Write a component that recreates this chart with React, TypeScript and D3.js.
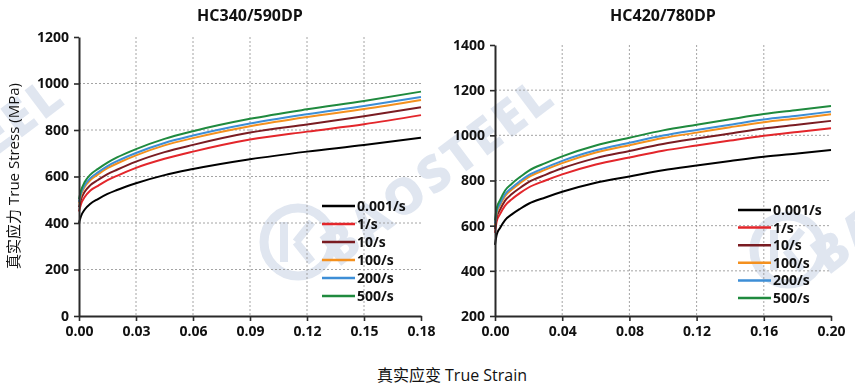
import React, { useEffect, useRef } from "react";
import * as d3 from "d3";

// strain rates shared by both panels
const rateLabels = ["0.001/s", "1/s", "10/s", "100/s", "200/s", "500/s"];
const rateColors = ["#000000", "#e3262b", "#7a1c22", "#f4901e", "#3d8ed6", "#1f8a3e"];

// HC340/590DP
const strain340 = [0, 0.001, 0.003, 0.006, 0.01, 0.015, 0.02, 0.03, 0.045, 0.06, 0.09, 0.12, 0.15, 0.18];
const s340_0001 = [400, 428, 458, 483, 503, 525, 542, 571, 606, 632, 674, 707, 735, 767];
const s340_1 = [449, 480, 512, 540, 560, 584, 603, 637, 676, 707, 759, 793, 825, 864];
const s340_10 = [468, 500, 534, 563, 585, 610, 629, 664, 705, 736, 789, 824, 859, 898];
const s340_100 = [484, 518, 555, 585, 609, 636, 656, 691, 734, 765, 816, 856, 890, 929];
const s340_200 = [491, 526, 562, 593, 618, 645, 666, 701, 744, 776, 828, 868, 903, 942];
const s340_500 = [503, 538, 576, 608, 633, 660, 682, 718, 762, 795, 848, 889, 925, 965];

// HC420/780DP
const strain420 = [0, 0.001, 0.003, 0.006, 0.01, 0.015, 0.02, 0.03, 0.04, 0.06, 0.08, 0.1, 0.12, 0.14, 0.16, 0.18, 0.2];
const s420_0001 = [515, 560, 590, 625, 650, 675, 697, 725, 750, 790, 818, 845, 866, 886, 905, 920, 935];
const s420_1 = [568, 618, 651, 689, 717, 745, 769, 800, 827, 871, 902, 932, 955, 977, 998, 1015, 1031];
const s420_10 = [586, 637, 671, 711, 740, 768, 793, 825, 854, 899, 931, 962, 986, 1008, 1030, 1047, 1064];
const s420_100 = [602, 655, 690, 731, 760, 789, 815, 848, 877, 924, 956, 988, 1012, 1036, 1058, 1075, 1093];
const s420_200 = [609, 662, 697, 739, 768, 798, 824, 857, 887, 934, 967, 999, 1024, 1047, 1070, 1087, 1105];
const s420_500 = [623, 677, 713, 756, 786, 816, 843, 877, 907, 955, 989, 1022, 1047, 1071, 1094, 1112, 1130];

const xTicks340 = [0, 0.03, 0.06, 0.09, 0.12, 0.15, 0.18];
const yTicks340 = [0, 200, 400, 600, 800, 1000, 1200];
const xTicks420 = [0, 0.04, 0.08, 0.12, 0.16, 0.2];
const yTicks420 = [200, 400, 600, 800, 1000, 1200, 1400];

const fontFamily = "'Open Sans', 'Noto Sans CJK SC', sans-serif";

const App: React.FC = () => {
  const svgRef = useRef<SVGSVGElement | null>(null);

  useEffect(() => {
    const svg = d3.select(svgRef.current);
    svg.selectAll("*").remove();

    svg.append("rect").attr("width", 855).attr("height", 388).attr("fill", "white");

    // watermark (drawn under everything), clipped to the picture
    svg.append("clipPath").attr("id", "wmclip")
      .append("rect").attr("width", 855).attr("height", 388);
    const wm = svg.append("g").attr("clip-path", "url(#wmclip)").attr("opacity", 0.45);
    [[-490, 0], [0, 0], [490, 8]].forEach(([dx, dy]) => {
      const g = wm.append("g").attr("transform", `translate(${dx},${dy})`);
      g.append("circle")
        .attr("cx", 298)
        .attr("cy", 242)
        .attr("r", 34)
        .attr("fill", "none")
        .attr("stroke", "#b9c7de")
        .attr("stroke-width", 9);
      g.append("path")
        .attr("d", "M284,222 L284,262 M296,242 L312,222 M296,242 L312,262")
        .attr("fill", "none")
        .attr("stroke", "#b9c7de")
        .attr("stroke-width", 8);
      g.append("text")
        .attr("transform", "translate(338,268) rotate(-37)")
        .attr("font-family", fontFamily)
        .attr("font-weight", 800)
        .attr("font-size", 50)
        .attr("letter-spacing", 3)
        .attr("fill", "#b9c7de")
        .text("BAOSTEEL");
    });

    const panels = [
      {
        title: "HC340/590DP",
        strain: strain340,
        series: [s340_0001, s340_1, s340_10, s340_100, s340_200, s340_500],
        xMax: 0.18,
        yMin: 0,
        yMax: 1200,
        xTicks: xTicks340,
        yTicks: yTicks340,
        box: { left: 79, right: 421, top: 37, bottom: 316 },
        legend: { x: 322, y: 206, step: 18 },
      },
      {
        title: "HC420/780DP",
        strain: strain420,
        series: [s420_0001, s420_1, s420_10, s420_100, s420_200, s420_500],
        xMax: 0.2,
        yMin: 200,
        yMax: 1400,
        xTicks: xTicks420,
        yTicks: yTicks420,
        box: { left: 495, right: 831, top: 45, bottom: 316 },
        legend: { x: 738, y: 210, step: 17.6 },
      },
    ];

    panels.forEach((p) => {
      const { box } = p;
      const x = d3.scaleLinear().domain([0, p.xMax]).range([box.left, box.right]);
      const y = d3.scaleLinear().domain([p.yMin, p.yMax]).range([box.bottom, box.top]);

      const g = svg.append("g").style("font-family", fontFamily);

      // grid lines
      g.selectAll(".hgrid")
        .data(p.yTicks.slice(1, -1))
        .enter()
        .append("line")
        .attr("x1", box.left)
        .attr("x2", box.right)
        .attr("y1", (d) => y(d))
        .attr("y2", (d) => y(d))
        .attr("stroke", "#9a9a9a")
        .attr("stroke-width", 0.9)
        .attr("stroke-dasharray", "2,2");
      g.selectAll(".vgrid")
        .data(p.xTicks.slice(1, -1))
        .enter()
        .append("line")
        .attr("x1", (d) => x(d))
        .attr("x2", (d) => x(d))
        .attr("y1", box.top)
        .attr("y2", box.bottom)
        .attr("stroke", "#9a9a9a")
        .attr("stroke-width", 0.9)
        .attr("stroke-dasharray", "2,2");

      // curves
      const line = d3
        .line<number>()
        .x((_d, i) => x(p.strain[i]))
        .y((d) => y(d))
        .curve(d3.curveMonotoneX);

      p.series.forEach((s, i) => {
        g.append("path")
          .attr("d", line(s)!)
          .attr("fill", "none")
          .attr("stroke", rateColors[i])
          .attr("stroke-width", 2);
      });

      // axes
      const xAxis = d3
        .axisBottom(x)
        .tickValues(p.xTicks)
        .tickFormat(d3.format(".2f") as any)
        .tickSize(5)
        .tickSizeOuter(0)
        .tickPadding(5);
      const yAxis = d3
        .axisLeft(y)
        .tickValues(p.yTicks)
        .tickFormat(d3.format("d") as any)
        .tickSize(5)
        .tickSizeOuter(0)
        .tickPadding(5);

      const gx = g.append("g").attr("transform", `translate(0,${box.bottom})`).call(xAxis);
      const gy = g.append("g").attr("transform", `translate(${box.left},0)`).call(yAxis);
      [gx, gy].forEach((a) => {
        a.select(".domain").attr("stroke", "#2a2a2a").attr("stroke-width", 2);
        a.selectAll(".tick line").attr("stroke", "#2a2a2a").attr("stroke-width", 1.6);
        a.selectAll(".tick text")
          .attr("fill", "#111")
          .style("font-family", fontFamily)
          .style("font-size", "14px")
          .style("font-weight", 700);
      });

      // title
      g.append("text")
        .attr("x", (box.left + box.right) / 2)
        .attr("y", 21)
        .attr("text-anchor", "middle")
        .attr("font-size", 16)
        .attr("font-weight", 700)
        .attr("fill", "#111")
        .text(p.title);

      // legend
      const leg = g
        .selectAll(".legend")
        .data(rateLabels)
        .enter()
        .append("g")
        .attr("transform", (_d, i) => `translate(${p.legend.x},${p.legend.y + i * p.legend.step})`);
      leg.append("line")
        .attr("x1", 0)
        .attr("x2", 33)
        .attr("y1", 0)
        .attr("y2", 0)
        .attr("stroke", (_d, i) => rateColors[i])
        .attr("stroke-width", 2.5);
      leg.append("text")
        .attr("x", 35)
        .attr("y", 0)
        .attr("dy", "0.35em")
        .attr("font-size", 14)
        .attr("font-weight", 700)
        .attr("fill", "#111")
        .text((d) => d);
    });

    // axis titles
    svg.append("text")
      .attr("transform", "translate(14,176) rotate(-90)")
      .attr("text-anchor", "middle")
      .attr("dy", "0.35em")
      .style("font-family", fontFamily)
      .attr("font-size", 15)
      .attr("fill", "#111")
      .text("真实应力 True Stress (MPa)");

    svg.append("text")
      .attr("x", 452)
      .attr("y", 381)
      .attr("text-anchor", "middle")
      .style("font-family", fontFamily)
      .attr("font-size", 16)
      .attr("fill", "#111")
      .text("真实应变 True Strain");
  }, []);

  return (
    <svg
      ref={svgRef}
      width={855}
      height={388}
      style={{ position: "absolute", left: 0, top: 0 }}
    ></svg>
  );
};

export default App;
